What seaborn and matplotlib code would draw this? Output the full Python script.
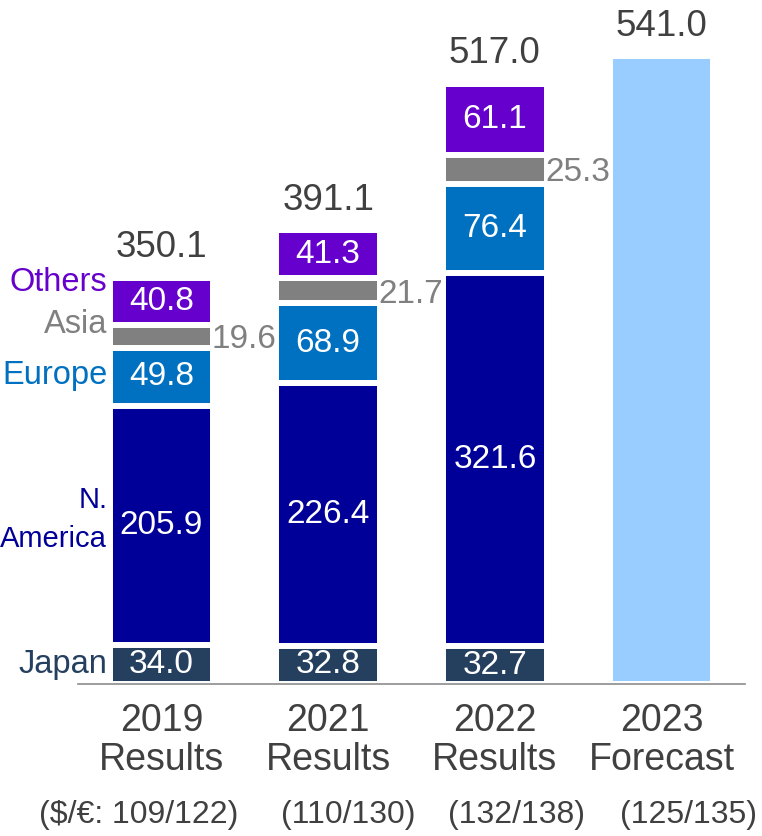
import pandas as pd
import matplotlib
matplotlib.use("Agg")
import matplotlib.pyplot as plt
import matplotlib.transforms as mtransforms
import seaborn as sns

# ---- data ----
years = ["2019\nResults", "2021\nResults", "2022\nResults", "2023\nForecast"]
fx_rates = ["($/€: 109/122)", "(110/130)", "(132/138)", "(125/135)"]
regions = ["Japan", "N. America", "Europe", "Asia", "Others"]
japan = [34.0, 32.8, 32.7]
n_america = [205.9, 226.4, 321.6]
europe = [49.8, 68.9, 76.4]
asia = [19.6, 21.7, 25.3]
others = [40.8, 41.3, 61.1]
totals = [350.1, 391.1, 517.0, 541.0]

colors = {
    "Japan": "#253F5F",
    "N. America": "#000099",
    "Europe": "#0070C0",
    "Asia": "#808080",
    "Others": "#6600CC",
}
forecast_color = "#99CCFF"
text_dark = "#404040"

results = pd.DataFrame({
    "year": years[:3],
    "Japan": japan,
    "N. America": n_america,
    "Europe": europe,
    "Asia": asia,
    "Others": others,
})
cum = results[regions].cumsum(axis=1)
cum["year"] = results["year"]

sns.set_style("white")
plt.rcParams["font.family"] = ["Liberation Sans", "DejaVu Sans"]

fig = plt.figure(figsize=(7.62, 8.36), dpi=100)
ax = fig.add_axes([78 / 762, 1 - 684 / 836, 667 / 762, 684 / 836])

bar_kw = dict(order=years, width=0.62, edgecolor="white", linewidth=4.3,
              saturation=1, errorbar=None, ax=ax)

# stacked bars drawn as overlapping cumulative bars, largest first
for reg in reversed(regions):
    sns.barplot(data=cum, x="year", y=reg, color=colors[reg], **bar_kw)

sns.barplot(x=[years[3]], y=[totals[3]], color=forecast_color, **bar_kw)

ax.set_xlim(-0.5, 3.5)
ax.set_ylim(0, 589.3)
ax.set_xlabel("")
ax.set_ylabel("")
ax.set_yticks([])
for side in ["left", "right", "top"]:
    ax.spines[side].set_visible(False)
ax.spines["bottom"].set_color("#8C8C8C")
ax.spines["bottom"].set_linewidth(1.2)
ax.tick_params(axis="x", length=0, pad=14, labelsize=27, labelcolor=text_dark)
for lab in ax.get_xticklabels():
    lab.set_linespacing(1.08)

# values inside segments
for i in range(3):
    for reg in ["Japan", "N. America", "Europe", "Others"]:
        val = results.loc[i, reg]
        mid = cum.loc[i, reg] - val / 2
        ax.text(i, mid, f"{val:.1f}", color="white", fontsize=24,
                ha="center", va="center")
    val = results.loc[i, "Asia"]
    mid = cum.loc[i, "Asia"] - val / 2
    ax.text(i + 0.30, mid - 3, f"{val:.1f}", color="#808080", fontsize=24,
            ha="left", va="center")

# totals above bars
for i, tot in enumerate(totals):
    ax.annotate(f"{tot:.1f}", (i, tot), xytext=(0, 9), textcoords="offset points",
                ha="center", va="bottom", fontsize=26.5, color=text_dark)

# region names beside the first bar
label_shift = {"Japan": 0, "N. America": 5, "Europe": 1, "Asia": 10, "Others": 16}
for reg in regions:
    val = results.loc[0, reg]
    mid = cum.loc[0, reg] - val / 2 + label_shift[reg]
    if reg == "N. America":
        ax.text(-0.325, mid, "N.\nAmerica", color=colors[reg], fontsize=21,
                ha="right", va="center", multialignment="right", linespacing=1.5)
    else:
        ax.text(-0.325, mid, reg, color=colors[reg], fontsize=23.5,
                ha="right", va="center")

# exchange rates under the tick labels
trans = mtransforms.blended_transform_factory(ax.transData, ax.transAxes)
rate_x = [0.46, 0.12, 0.13, 0.16]
rate_ha = ["right", "center", "center", "center"]
for i, txt in enumerate(fx_rates):
    ax.text(i + rate_x[i], -0.192, txt, transform=trans, ha=rate_ha[i],
            va="center", fontsize=23, color=text_dark)

fig.savefig("out.png", dpi=100)
